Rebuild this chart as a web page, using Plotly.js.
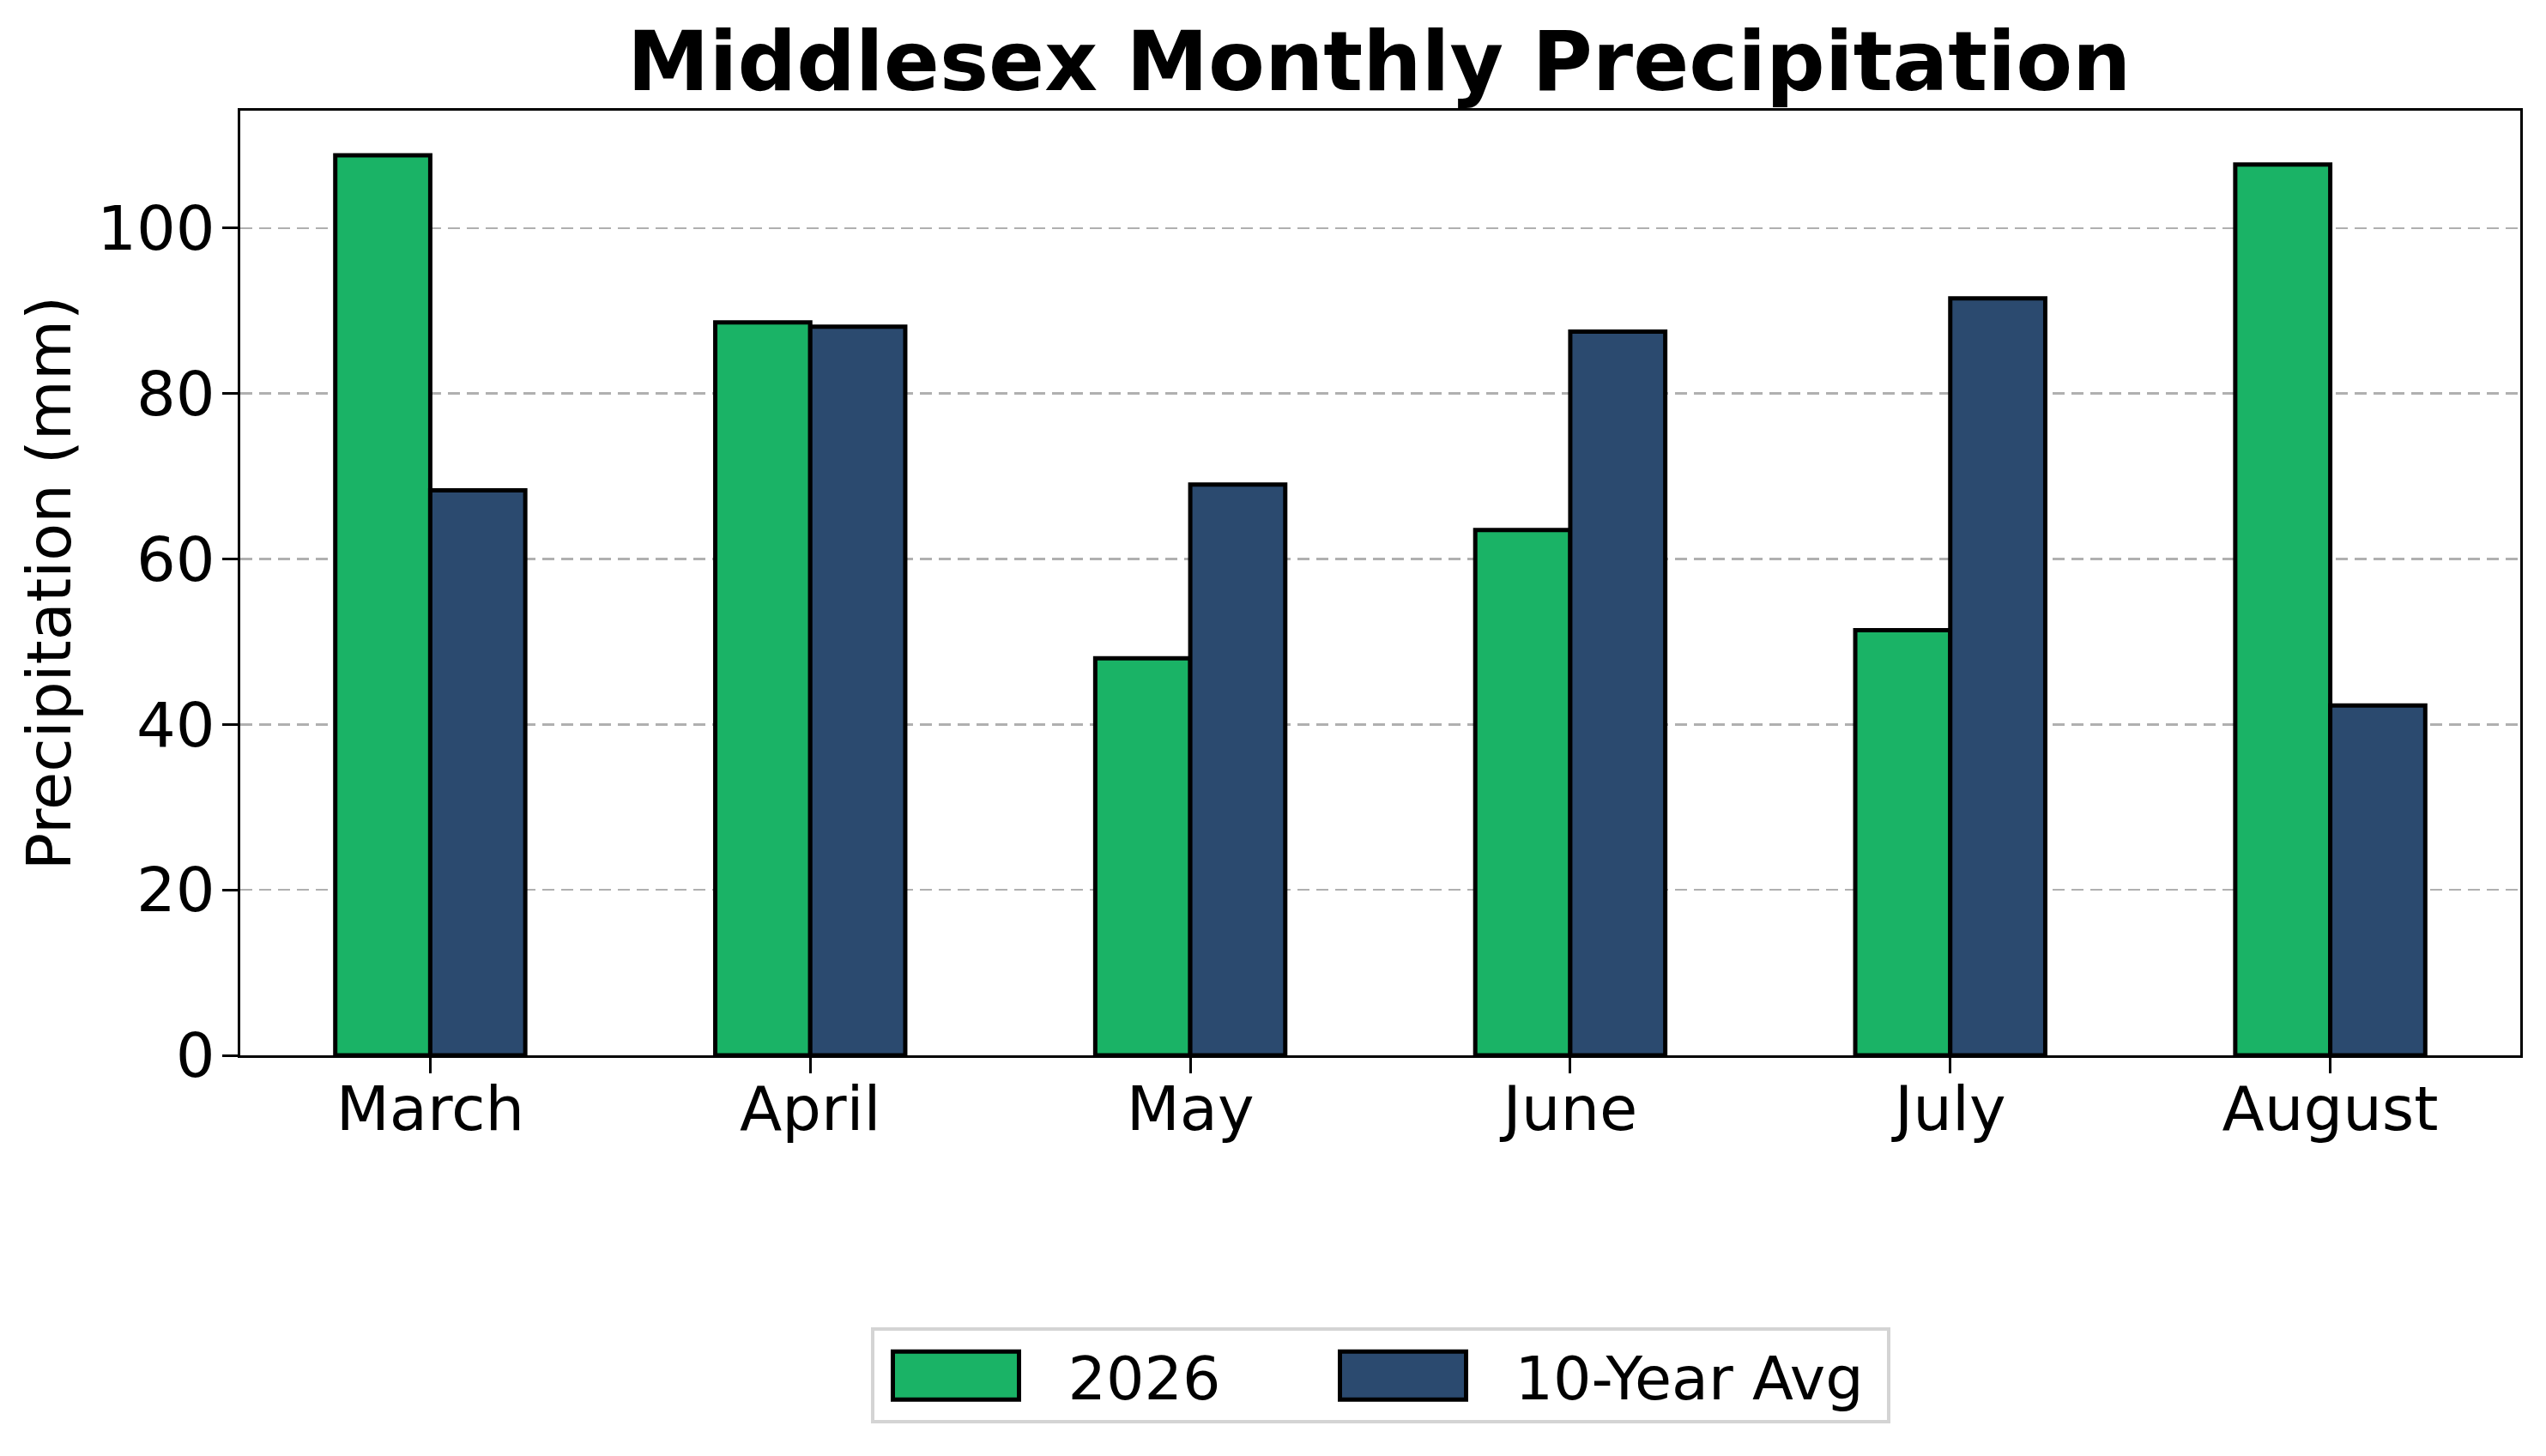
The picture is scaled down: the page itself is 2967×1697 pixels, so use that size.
<!DOCTYPE html>
<html>
<head>
<meta charset="utf-8">
<script src="https://cdn.plot.ly/plotly-3.0.1.min.js"></script>
<style>
  html, body { margin: 0; padding: 0; background: #ffffff; }
  #chart { width: 2967px; height: 1697px; }
</style>
</head>
<body>
<div id="chart"></div>
<script>
// ---- Data ----
const months = ["March", "April", "May", "June", "July", "August"];
const precip2026 = [108.8, 88.6, 48.0, 63.5, 51.4, 107.7];
const precipAvg10 = [68.3, 88.1, 69.0, 87.5, 91.5, 42.3];
const seriesNames = ["2026", "10-Year Avg"];
const yTicks = [0, 20, 40, 60, 80, 100];

const FONT = "DejaVu Sans, Verdana, sans-serif";

const traces = [
  {
    type: "bar",
    name: seriesNames[0],
    x: months,
    y: precip2026,
    marker: { color: "#1ab366", line: { color: "#000000", width: 5 } },
    legendwidth: 290,
    hoverinfo: "x+y+name"
  },
  {
    type: "bar",
    name: seriesNames[1],
    x: months,
    y: precipAvg10,
    marker: { color: "#2b4a6f", line: { color: "#000000", width: 5 } },
    legendwidth: 428,
    hoverinfo: "x+y+name"
  }
];

const layout = {
  width: 2967,
  height: 1697,
  paper_bgcolor: "#ffffff",
  plot_bgcolor: "#ffffff",
  font: { family: FONT, size: 72, color: "#000000" },
  margin: { l: 280, r: 30, t: 129, b: 467, pad: 0 },
  barmode: "group",
  bargap: 0.5,
  bargroupgap: 0,
  title: {
    text: "<b>Middlesex Monthly Precipitation</b>",
    font: { family: FONT, size: 96, color: "#000000" },
    x: 0.5417,
    xanchor: "center",
    xref: "container",
    y: 0.958,
    yref: "container",
    yanchor: "middle"
  },
  xaxis: {
    type: "category",
    range: [-0.5, 5.5],
    showline: true,
    linecolor: "#000000",
    linewidth: 3,
    mirror: true,
    ticks: "outside",
    ticklen: 18,
    tickwidth: 3,
    tickcolor: "#000000",
    ticklabelstandoff: -20,
    showgrid: false,
    zeroline: false,
    tickfont: { family: FONT, size: 72, color: "#000000" }
  },
  yaxis: {
    range: [0, 114.2],
    tickvals: yTicks,
    ticktext: yTicks.map(String),
    showline: true,
    linecolor: "#000000",
    linewidth: 3,
    mirror: true,
    ticks: "outside",
    ticklen: 18,
    tickwidth: 3,
    tickcolor: "#000000",
    ticklabelstandoff: -6,
    showgrid: true,
    gridcolor: "#b0b0b0",
    gridwidth: 2.5,
    griddash: "14px,8px",
    zeroline: false,
    tickfont: { family: FONT, size: 72, color: "#000000" },
    title: {
      text: "Precipitation (mm)",
      font: { family: FONT, size: 72, color: "#000000" },
      standoff: 7
    }
  },
  showlegend: true,
  legend: {
    orientation: "h",
    x: 0.5,
    xanchor: "center",
    y: -0.339,
    yanchor: "middle",
    bgcolor: "#ffffff",
    bordercolor: "#d4d4d4",
    borderwidth: 4,
    font: { family: FONT, size: 70, color: "#000000" },
    itemwidth: 216,
    traceorder: "normal"
  }
};

Plotly.newPlot("chart", traces, layout, { displayModeBar: false, staticPlot: true }).then(function (gd) {
  // Enlarge the legend swatches to matplotlib-like rectangles, placed just left of each label.
  const ICON_W = 147, ICON_H = 56, GAP = 57;
  gd.querySelectorAll(".legend .traces").forEach(function (g) {
    const text = g.querySelector("text.legendtext");
    if (!text) return;
    const tx = parseFloat(text.getAttribute("x")) || 0;
    g.querySelectorAll(".legendpoints path").forEach(function (p) {
      const gm = g.getCTM(), pm = p.getCTM();
      if (!gm || !pm) return;
      const ox = pm.e - gm.e, oy = pm.f - gm.f;
      const right = tx - GAP - ox, left = right - ICON_W;
      const top = -ICON_H / 2 - oy, bottom = ICON_H / 2 - oy;
      p.setAttribute("d", "M" + left + "," + top + "H" + right + "V" + bottom + "H" + left + "Z");
      p.style.strokeWidth = "5px";
      p.style.stroke = "#000000";
    });
  });
});
</script>
</body>
</html>
